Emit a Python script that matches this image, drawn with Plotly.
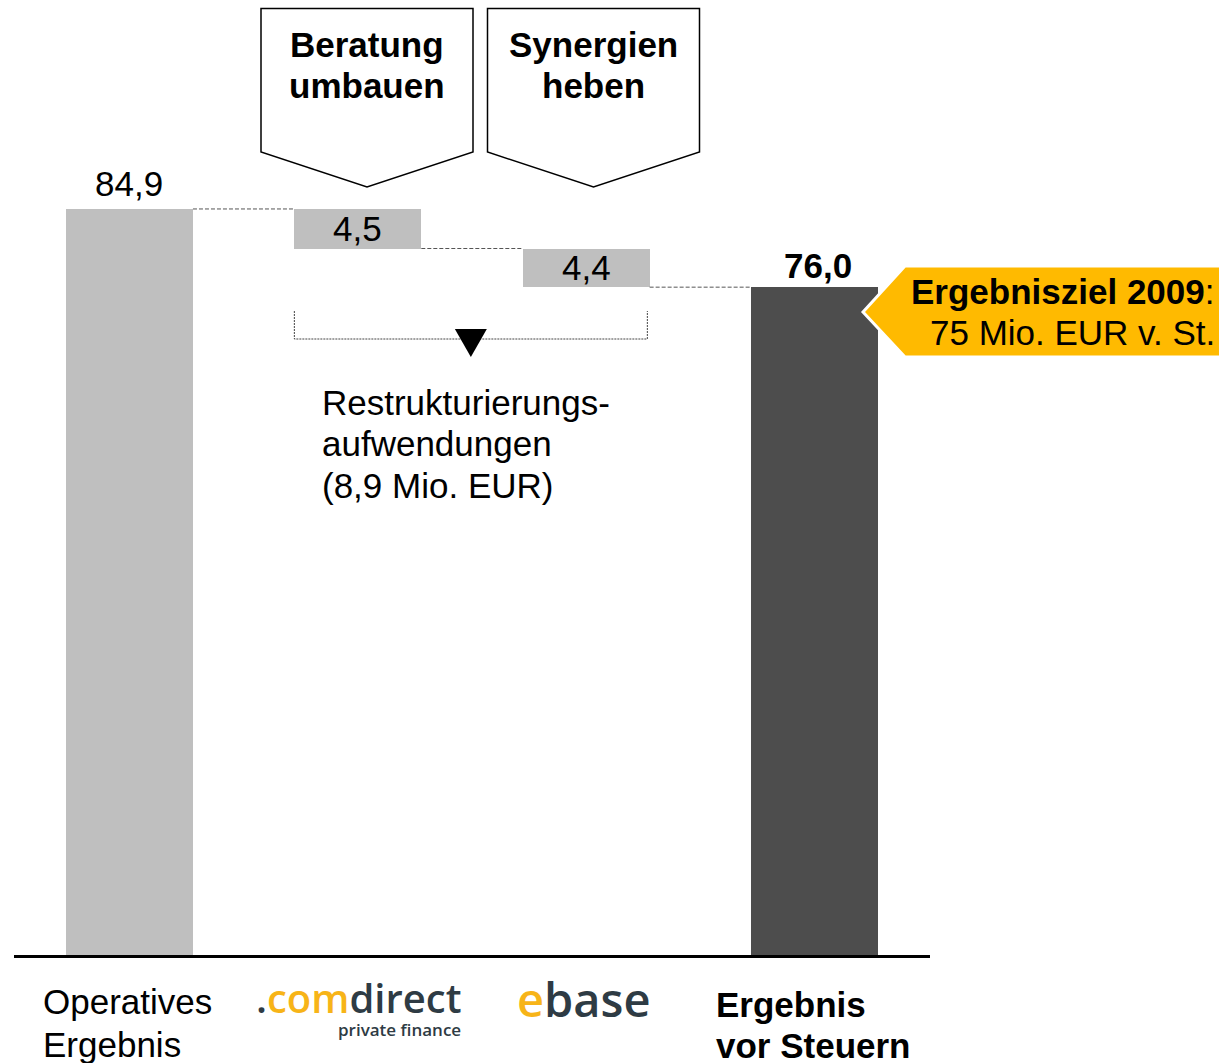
import plotly.graph_objects as go

# ---------------- data ----------------
categories = ["Operatives Ergebnis", "comdirect", "ebase", "Ergebnis vor Steuern"]
start_value = 84.9
changes = [-4.5, -4.4]
end_value = 76.0
bar_colors = ["#BFBFBF", "#BFBFBF", "#BFBFBF", "#4D4D4D"]
initiatives = [["Beratung", "umbauen"], ["Synergien", "heben"]]
restructuring_lines = ["Restrukturierungs-", "aufwendungen", "(8,9 Mio. EUR)"]
target_lines = ["<b>Ergebnisziel 2009</b>:", "75 Mio. EUR v. St."]

# ---------------- derived ----------------
levels = [start_value]
for c in changes:
    levels.append(round(levels[-1] + c, 1))
heights = [start_value] + [abs(c) for c in changes] + [end_value]
bases = [0] + [levels[i + 1] for i in range(len(changes))] + [0]
tops = [b + h for b, h in zip(bases, heights)]
xs = list(range(len(categories)))


def fmt(v):
    return f"{v:.1f}".replace(".", ",")


value_labels = [fmt(h) for h in heights]

# ---------------- geometry ----------------
W, H = 1219, 1063
L, R, T, B = 14, 930, 0, 955
XMIN, XMAX = -0.5058, 3.5059
YMAX = 108.68
BW = 0.556
FONT = "Liberation Sans, Arial, sans-serif"


def px(xd):
    return L + (xd - XMIN) / (XMAX - XMIN) * (R - L)


def pxp(p):
    return (p - L) / (R - L)


def pyp(p):
    return (B - p) / (B - T)


def dy(p):
    return (B - p) / (B - T) * YMAX


fig = go.Figure(
    go.Bar(
        x=xs,
        y=heights,
        base=bases,
        width=BW,
        marker=dict(color=bar_colors, line=dict(width=0)),
        hoverinfo="skip",
    )
)

shapes = []
annotations = []


def ann(text, x, y, size=35, color="black", xanchor="center", bold=False,
        xref="paper", yref="paper", yshift=0, family=FONT, weight=None):
    f = dict(family=family, size=size, color=color)
    if weight is not None:
        f["weight"] = weight
    annotations.append(dict(
        text=f"<b>{text}</b>" if bold else text,
        x=x, y=y, xref=xref, yref=yref, xanchor=xanchor, yanchor="middle",
        showarrow=False, font=f, yshift=yshift, align="left",
    ))


# connectors (dashed)
for i in range(len(xs) - 1):
    lvl = tops[i] if i == 0 else bases[i]
    shapes.append(dict(
        type="line", xref="x", yref="y",
        x0=xs[i] + BW / 2, x1=xs[i + 1] - BW / 2, y0=lvl, y1=lvl,
        line=dict(color="#555555", width=1, dash="4px,2px"),
    ))

# value labels
ann(value_labels[0], xs[0], tops[0], xref="x", yref="y", yshift=25)
ann(value_labels[1], xs[1], (bases[1] + tops[1]) / 2, xref="x", yref="y")
ann(value_labels[2], xs[2], (bases[2] + tops[2]) / 2, xref="x", yref="y")
ann(value_labels[3], xs[3] + 0.015, tops[3], xref="x", yref="y", yshift=22, bold=True)

# bracket + triangle
bx0, bx1 = xs[1] - BW / 2, xs[2] + BW / 2 - 0.01
yb_top, yb_bot = dy(311), dy(339)
shapes.append(dict(
    type="path", xref="x", yref="y",
    path=f"M{bx0},{yb_top} L{bx0},{yb_bot} L{bx1},{yb_bot} L{bx1},{yb_top}",
    line=dict(color="#444444", width=1, dash="2px,1px"),
))
xm = (bx0 + bx1) / 2
half = 16 / 228.33
shapes.append(dict(
    type="path", xref="x", yref="y",
    path=f"M{xm - half},{dy(329)} L{xm + half},{dy(329)} L{xm},{dy(357)} Z",
    fillcolor="black", line=dict(color="black", width=0),
))
for k, line in enumerate(restructuring_lines):
    ann(line, pxp(320), pyp(402 + 41.7 * k), xanchor="left")

# pentagon boxes at top
for (left, right, tip), lines in zip([(261, 473, 367), (487.5, 699.5, 593.5)], initiatives):
    pts = [(left, 8.5), (right, 8.5), (right, 152), (tip, 187), (left, 152)]
    path = "M" + " L".join(f"{pxp(a)},{pyp(b)}" for a, b in pts) + " Z"
    shapes.append(dict(type="path", xref="paper", yref="paper", path=path,
                       fillcolor="white", line=dict(color="black", width=1.5)))
    cx = (left + right) / 2
    ann(lines[0], pxp(cx), pyp(44), bold=True)
    ann(lines[1], pxp(cx), pyp(85), bold=True)

# target callout
cpts = [(863, 312), (905, 266), (1230, 266), (1230, 357), (905, 357)]
cpath = "M" + " L".join(f"{pxp(a)},{pyp(b)}" for a, b in cpts) + " Z"
shapes.append(dict(type="path", xref="paper", yref="paper", path=cpath,
                   fillcolor="#FFBA00", line=dict(color="white", width=3), layer="above"))
ann(target_lines[0], pxp(1217), pyp(291.5), xanchor="right")
ann(target_lines[1], pxp(1217), pyp(332.5), xanchor="right")

# category labels
op_words = categories[0].split()
ann(op_words[0], pxp(41), pyp(1002), xanchor="left")
ann(op_words[1], pxp(41), pyp(1044), xanchor="left")
ann("Ergebnis", pxp(714), pyp(1004), xanchor="left", bold=True)
ann("vor Steuern", pxp(714), pyp(1045), xanchor="left", bold=True)

# logos as text
ORANGE = "#F7B418"
SLATE = "#2E3B44"
ann(f'<span style="color:{SLATE}">.</span><span style="color:{ORANGE}">com</span>'
    f'<span style="color:{SLATE}">direct</span>',
    pxp(463), pyp(997), size=40, xanchor="right", family="Open Sans", weight=600)
ann("private finance", pxp(463), pyp(1029), size=17, color=SLATE,
    xanchor="right", family="Open Sans", weight=600)
ann(f'<span style="color:{ORANGE}">e</span><span style="color:{SLATE}">base</span>',
    pxp(584), pyp(999), size=47, family="Open Sans", weight=600)

fig.update_layout(
    width=W, height=H,
    margin=dict(l=L, r=W - R, t=T, b=H - B, pad=0),
    paper_bgcolor="white", plot_bgcolor="white",
    showlegend=False,
    bargap=0,
    xaxis=dict(range=[XMIN, XMAX], showticklabels=False, showgrid=False,
               zeroline=False, showline=True, linecolor="black", linewidth=2.5,
               ticks=""),
    yaxis=dict(range=[0, YMAX], visible=False),
    shapes=shapes,
    annotations=annotations,
    font=dict(family=FONT),
)

fig.write_html(
    "out.html",
    config={"displayModeBar": False},
    post_script="document.body.style.margin='0';document.body.style.overflow='hidden';",
)
